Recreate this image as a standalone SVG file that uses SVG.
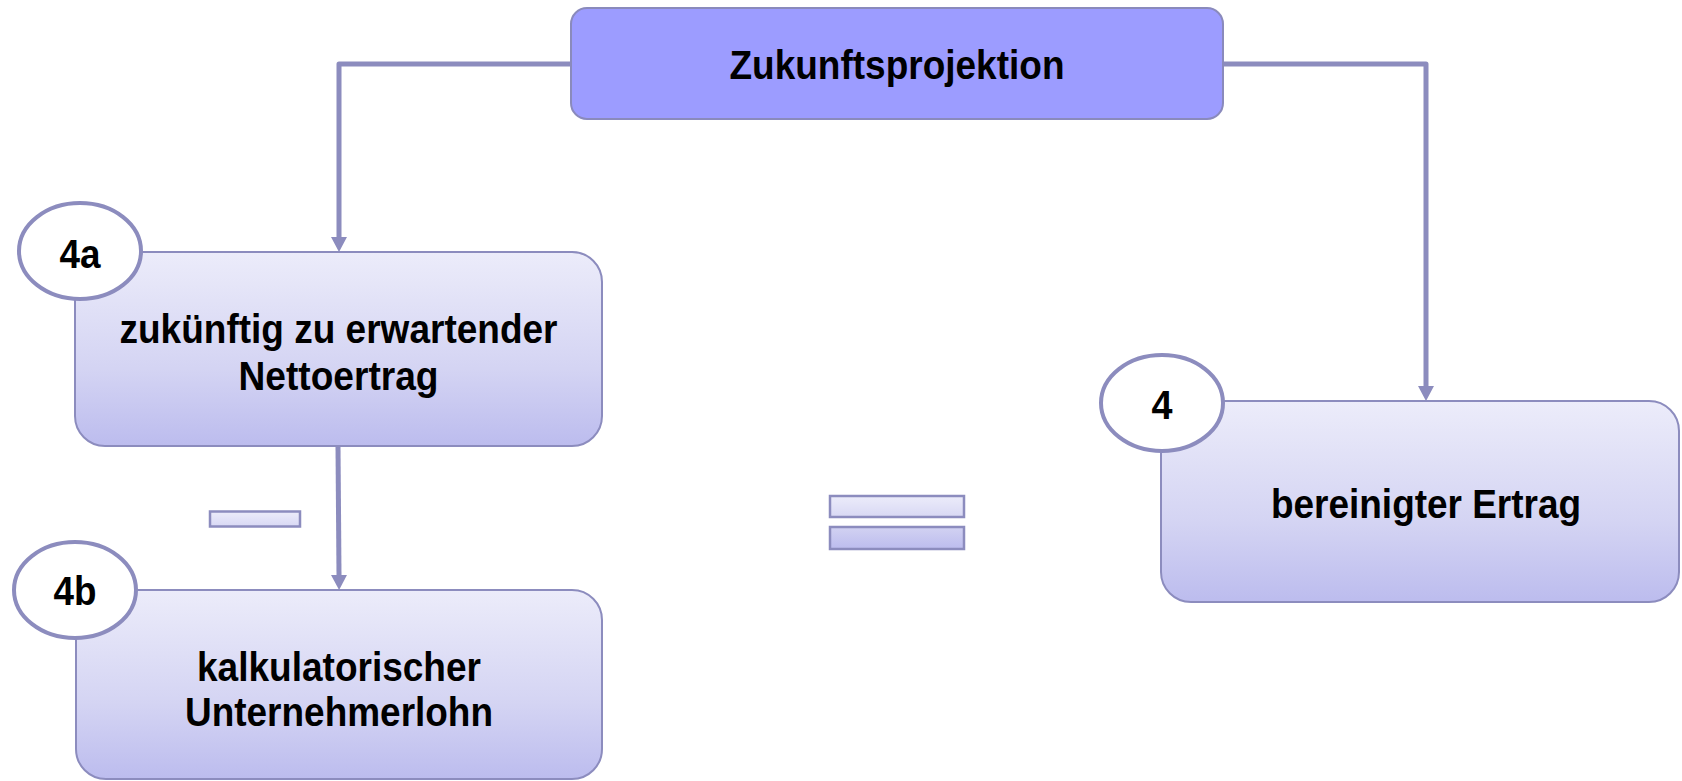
<svg xmlns="http://www.w3.org/2000/svg" width="1682" height="781" viewBox="0 0 1682 781">
  <defs>
    <linearGradient id="boxGrad" x1="0" y1="0" x2="0" y2="1">
      <stop offset="0" stop-color="#ececfa"/>
      <stop offset="0.6" stop-color="#d4d4f3"/>
      <stop offset="1" stop-color="#bcbcee"/>
    </linearGradient>
    <linearGradient id="lightGrad" x1="0" y1="0" x2="0" y2="1">
      <stop offset="0" stop-color="#ececfa"/>
      <stop offset="1" stop-color="#d8d8f4"/>
    </linearGradient>
    <linearGradient id="darkGrad" x1="0" y1="0" x2="0" y2="1">
      <stop offset="0" stop-color="#d2d2f2"/>
      <stop offset="1" stop-color="#bcbcee"/>
    </linearGradient>
    <marker id="arrow" markerWidth="16" markerHeight="16" refX="0" refY="8" orient="auto" markerUnits="userSpaceOnUse">
      <path d="M0,0 L15,8 L0,16 Z" fill="#8c8cbe"/>
    </marker>
    <style>
      .conn { fill: none; stroke: #8c8cbe; stroke-width: 5; stroke-linejoin: round; }
      .box { fill: url(#boxGrad); stroke: #8c8cbe; stroke-width: 2; }
      .top { fill: #9c9cff; stroke: #8a8abc; stroke-width: 2; }
      .badge { fill: #ffffff; stroke: #8c8cbe; stroke-width: 4; }
      .sym { stroke: #8c8cbe; stroke-width: 2.5; }
      text { font-family: "Liberation Sans", Arial, sans-serif; font-weight: bold; font-size: 40px; fill: #000000; text-anchor: middle; }
    </style>
  </defs>

  <g id="connectors">
    <path class="conn" d="M571,64 L339,64 L339,237" marker-end="url(#arrow)"/>
    <path class="conn" d="M1223,64 L1426,64 L1426,386" marker-end="url(#arrow)"/>
    <path class="conn" d="M338,446 L339,575" marker-end="url(#arrow)"/>
  </g>

  <g id="node-top">
    <rect class="top" x="571" y="8" width="652" height="111" rx="16" ry="16"/>
    <text x="897" y="79" textLength="335" lengthAdjust="spacingAndGlyphs">Zukunftsprojektion</text>
  </g>

  <g id="node-4a">
    <rect class="box" x="75" y="252" width="527" height="194" rx="30" ry="30"/>
    <text x="338.5" y="343" textLength="438" lengthAdjust="spacingAndGlyphs">zukünftig zu erwartender</text>
    <text x="338.5" y="390" textLength="200" lengthAdjust="spacingAndGlyphs">Nettoertrag</text>
  </g>
  <g id="badge-4a">
    <ellipse class="badge" cx="80" cy="251" rx="61" ry="48"/>
    <text x="80" y="268" textLength="41" lengthAdjust="spacingAndGlyphs">4a</text>
  </g>

  <g id="node-4b">
    <rect class="box" x="76" y="590" width="526" height="189" rx="30" ry="30"/>
    <text x="339" y="681" textLength="284" lengthAdjust="spacingAndGlyphs">kalkulatorischer</text>
    <text x="339" y="726" textLength="308" lengthAdjust="spacingAndGlyphs">Unternehmerlohn</text>
  </g>
  <g id="badge-4b">
    <ellipse class="badge" cx="75" cy="590" rx="61" ry="48"/>
    <text x="75" y="605" textLength="43" lengthAdjust="spacingAndGlyphs">4b</text>
  </g>

  <g id="node-4">
    <rect class="box" x="1161" y="401" width="518" height="201" rx="30" ry="30"/>
    <text x="1426" y="518" textLength="310" lengthAdjust="spacingAndGlyphs">bereinigter Ertrag</text>
  </g>
  <g id="badge-4">
    <ellipse class="badge" cx="1162" cy="403" rx="61" ry="48"/>
    <text x="1162" y="419" textLength="21" lengthAdjust="spacingAndGlyphs">4</text>
  </g>

  <g id="minus">
    <rect class="sym" x="210" y="511.5" width="90" height="15" fill="url(#lightGrad)"/>
  </g>
  <g id="equals">
    <rect class="sym" x="830" y="496" width="134" height="21" fill="url(#lightGrad)"/>
    <rect class="sym" x="830" y="527" width="134" height="22" fill="url(#darkGrad)"/>
  </g>
</svg>
